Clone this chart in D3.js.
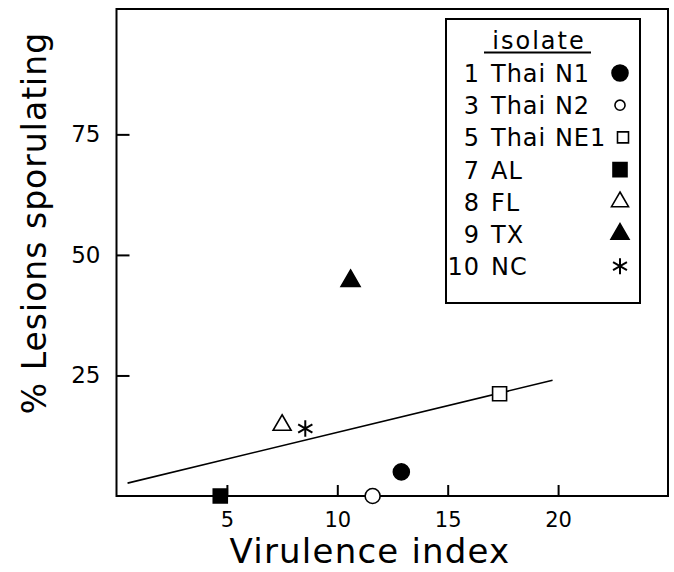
<!DOCTYPE html>
<html>
<head>
<meta charset="utf-8">
<script src="https://cdn.jsdelivr.net/npm/d3@7"></script>
<style>
  body { margin: 0; background: #fff; }
  text { font-family: "DejaVu Sans", sans-serif; fill: #000; }
</style>
</head>
<body>
<div id="chart"></div>
<script>
// isolates, in legend order
var isolateIds = ["1", "3", "5", "7", "8", "9", "10"];
var isolateNames = ["Thai N1", "Thai N2", "Thai NE1", "AL", "FL", "TX", "NC"];
var virulenceIndex = [12.9, 11.6, 17.35, 4.7, 7.5, 10.6, 8.55];
var lesionsSporulating = [5.0, 0, 21.2, 0, 14.7, 44.6, 14.0];

// fitted line: y = a + b*x, drawn over this x range
var fitCoef = [2.12, 1.108];
var fitRange = [0.5, 19.75];

var xTicks = [5, 10, 15, 20];
var yTicks = [25, 50, 75];

// marker style for each isolate
var markerStyle = {
  "1":  { shape: d3.symbolCircle,   fill: true,  size: 201, legendSize: 201 },
  "3":  { shape: d3.symbolCircle,   fill: false, size: 177, legendSize: 80 },
  "5":  { shape: d3.symbolSquare,   fill: false, size: 196, legendSize: 121 },
  "7":  { shape: d3.symbolSquare,   fill: true,  size: 196, legendSize: 196 },
  "8":  { shape: d3.symbolTriangle, fill: false, size: 140, legendSize: 125 },
  "9":  { shape: d3.symbolTriangle, fill: true,  size: 156, legendSize: 140 },
  "10": { shape: d3.symbolAsterisk, fill: false, size: 190, legendSize: 181 }
};

var data = isolateIds.map(function (id, i) {
  return { id: id, name: isolateNames[i], x: virulenceIndex[i], y: lesionsSporulating[i] };
});

var W = 674, H = 572;
var plot = { left: 116.5, right: 668, top: 9, bottom: 496 };

var svg = d3.select("#chart")
  .append("svg")
  .attr("width", W)
  .attr("height", H);

var x = d3.scaleLinear().domain([0, 25]).range([plot.left, plot.right + 0.5]);
var y = d3.scaleLinear().domain([0, 101]).range([plot.bottom, plot.top]);

// frame
svg.append("rect")
  .attr("x", plot.left)
  .attr("y", plot.top)
  .attr("width", plot.right - plot.left)
  .attr("height", plot.bottom - plot.top)
  .attr("fill", "none")
  .attr("stroke", "#000")
  .attr("stroke-width", 2);

// axes, ticks pointing inward
var xAxis = svg.append("g")
  .attr("transform", "translate(0," + plot.bottom + ")")
  .call(d3.axisBottom(x).tickValues(xTicks).tickSizeInner(-11).tickSizeOuter(0).tickPadding(16));
xAxis.select(".domain").remove();
xAxis.attr("font-size", null).attr("font-family", null);
xAxis.selectAll("line").attr("stroke", "#000").attr("stroke-width", 2);
xAxis.selectAll("text").style("font-size", "21px").style("font-family", "DejaVu Sans").attr("fill", "#000");

var yAxis = svg.append("g")
  .attr("transform", "translate(" + plot.left + ",0)")
  .call(d3.axisLeft(y).tickValues(yTicks).tickSizeInner(-13).tickSizeOuter(0).tickPadding(16));
yAxis.select(".domain").remove();
yAxis.attr("font-size", null).attr("font-family", null);
yAxis.selectAll("line").attr("stroke", "#000").attr("stroke-width", 2);
yAxis.selectAll("text").style("font-size", "23px").style("font-family", "DejaVu Sans").attr("fill", "#000");

// axis titles
svg.append("text")
  .attr("x", 370)
  .attr("y", 563)
  .attr("text-anchor", "middle")
  .attr("font-size", 34)
  .attr("letter-spacing", 1.2)
  .text("Virulence index");

svg.append("text")
  .attr("transform", "translate(46,223) rotate(-90)")
  .attr("text-anchor", "middle")
  .attr("font-size", 33)
  .attr("letter-spacing", 1)
  .text("% Lesions sporulating");

// regression line
var line = d3.line()
  .x(function (d) { return x(d); })
  .y(function (d) { return y(fitCoef[0] + fitCoef[1] * d); });
svg.append("path")
  .datum(fitRange)
  .attr("d", line)
  .attr("fill", "none")
  .attr("stroke", "#000")
  .attr("stroke-width", 1.6);

// points
function drawMarker(sel, id, size) {
  var s = markerStyle[id];
  sel.append("path")
    .attr("d", d3.symbol().type(s.shape).size(size)())
    .attr("fill", s.fill ? "#000" : "#fff")
    .attr("stroke", "#000")
    .attr("stroke-width", s.shape === d3.symbolAsterisk ? 2 : 1.6);
}

svg.selectAll("g.pt")
  .data(data)
  .enter()
  .append("g")
  .attr("class", "pt")
  .attr("transform", function (d) { return "translate(" + x(d.x) + "," + y(d.y) + ")"; })
  .each(function (d) { drawMarker(d3.select(this), d.id, markerStyle[d.id].size); });

// legend
var lg = svg.append("g");
lg.append("rect")
  .attr("x", 446)
  .attr("y", 19)
  .attr("width", 194)
  .attr("height", 284)
  .attr("fill", "#fff")
  .attr("stroke", "#000")
  .attr("stroke-width", 2);

lg.append("text")
  .attr("x", 539)
  .attr("y", 49)
  .attr("text-anchor", "middle")
  .attr("font-size", 24)
  .attr("letter-spacing", 2)
  .text("isolate");
lg.append("line")
  .attr("x1", 484)
  .attr("x2", 591)
  .attr("y1", 52.5)
  .attr("y2", 52.5)
  .attr("stroke", "#000")
  .attr("stroke-width", 2);

var rows = lg.selectAll("g.row")
  .data(data)
  .enter()
  .append("g")
  .attr("class", "row")
  .attr("transform", function (d, i) { return "translate(0," + (73 + i * 32.2) + ")"; });

rows.append("text")
  .attr("x", 480)
  .attr("y", 9)
  .attr("text-anchor", "end")
  .attr("font-size", 24)
  .attr("letter-spacing", 1)
  .text(function (d) { return d.id; });

rows.append("text")
  .attr("x", 491)
  .attr("y", 9)
  .attr("font-size", 24)
  .attr("letter-spacing", 1)
  .text(function (d) { return d.name; });

rows.append("g")
  .attr("transform", function (d) { return "translate(" + (d.id === "5" ? 623 : 620) + ",0)"; })
  .each(function (d) { drawMarker(d3.select(this), d.id, markerStyle[d.id].legendSize); });
</script>
</body>
</html>
